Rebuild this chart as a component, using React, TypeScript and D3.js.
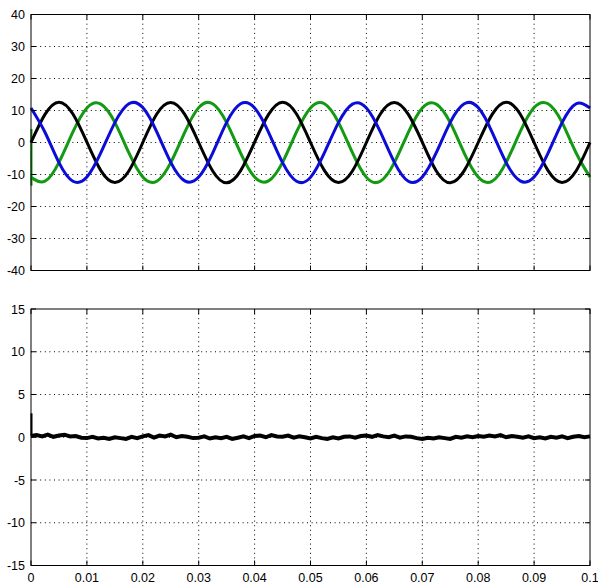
import React from "react";
import * as d3 from "d3";

const t = d3.range(41).map((i) => i * 0.0025);

const phaseA = [
  0, 8.8, 12.6, 8.9, 0.1, -8.8, -12.5, -8.9,
  0, 8.9, 12.5, 8.8, 0, -8.9, -12.6, -8.8,
  0.1, 8.8, 12.6, 8.9, 0, -8.8, -12.5, -8.9,
  0, 8.9, 12.5, 8.8, 0.1, -8.9, -12.6, -8.8,
  0, 8.8, 12.6, 8.9, 0, -8.8, -12.5, -8.9,
  0,
];
const phaseB = [
  10.8, 3.2, -6.3, -12.1, -10.8, -3.2, 6.2, 12.1,
  10.9, 3.3, -6.2, -12.0, -10.8, -3.3, 6.3, 12.1,
  10.8, 3.2, -6.3, -12.1, -10.9, -3.2, 6.2, 12.0,
  10.8, 3.3, -6.2, -12.1, -10.8, -3.2, 6.3, 12.1,
  10.9, 3.2, -6.3, -12.0, -10.8, -3.3, 6.2, 12.1,
  10.8,
];
const phaseC = [
  -10.9, -12.1, -6.2, 3.3, 10.8, 12.0, 6.3, -3.2,
  -10.8, -12.1, -6.3, 3.2, 10.9, 12.1, 6.2, -3.3,
  -10.8, -12.0, -6.2, 3.3, 10.8, 12.1, 6.3, -3.2,
  -10.9, -12.1, -6.3, 3.2, 10.8, 12.0, 6.2, -3.3,
  -10.8, -12.1, -6.2, 3.3, 10.9, 12.1, 6.3, -3.2,
  -10.8,
];
// start-up transient of phase C at t = 0
const phaseCStart = [4.2, -13.5];

// lower plot, sampled every 0.001 s
const t2 = d3.range(101).map((i) => i * 0.001);
const residual = [
  0.15, 0.25, 0.1, 0.3, 0.05, 0.2, 0.3, 0.1, 0.15, -0.05,
  -0.1, 0.05, -0.15, -0.05, -0.2, 0.0, -0.1, -0.2, 0.05, -0.1,
  0.1, 0.25, -0.05, 0.2, 0.1, 0.3, 0.0, 0.15, 0.05, -0.1,
  -0.05, 0.1, -0.15, 0.0, -0.1, 0.05, -0.2, -0.05, 0.1, -0.1,
  0.15, 0.2, 0.0, 0.25, 0.1, 0.05, 0.2, -0.05, 0.1, 0.0,
  -0.15, 0.05, -0.1, -0.2, 0.0, -0.15, 0.05, 0.1, -0.05, 0.15,
  0.2, 0.05, 0.25, 0.1, 0.0, 0.2, -0.05, 0.1, 0.05, -0.1,
  -0.2, -0.05, -0.15, 0.0, -0.1, -0.2, 0.05, -0.05, 0.1, 0.0,
  0.15, 0.05, 0.2, 0.1, 0.25, 0.0, 0.15, 0.05, -0.05, 0.1,
  -0.1, 0.0, -0.15, 0.05, -0.05, 0.1, -0.1, 0.05, 0.15, 0.0,
  0.1,
];
const residualStart = [2.8, 0.15];

const xTicks = [0, 0.01, 0.02, 0.03, 0.04, 0.05, 0.06, 0.07, 0.08, 0.09, 0.1];
const yTicksTop = [-40, -30, -20, -10, 0, 10, 20, 30, 40];
const yTicksBottom = [-15, -10, -5, 0, 5, 10, 15];

const W = 598;
const H = 584;
const left = 31;
const right = 590;
const font = "'Liberation Sans', Arial, Helvetica, sans-serif";

const x = d3.scaleLinear().domain([0, 0.1]).range([left, right]);

type PanelProps = {
  y: d3.ScaleLinear<number, number>;
  yTicks: number[];
  showX: boolean;
  children: React.ReactNode;
};

const Panel = ({ y, yTicks, showX, children }: PanelProps) => {
  const [y0, y1] = y.range();
  const top = Math.min(y0, y1);
  const bottom = Math.max(y0, y1);
  const tl = 5;
  return (
    <g>
      {/* dotted grid */}
      {xTicks.slice(1, -1).map((v) => (
        <line key={"gx" + v} x1={x(v)} x2={x(v)} y1={top} y2={bottom}
          stroke="#000" strokeWidth={1} strokeDasharray="1,3.6" />
      ))}
      {yTicks.slice(1, -1).map((v) => (
        <line key={"gy" + v} x1={left} x2={right} y1={y(v)} y2={y(v)}
          stroke="#000" strokeWidth={1} strokeDasharray="1,3.6" />
      ))}
      {children}
      {/* ticks */}
      {xTicks.map((v) => (
        <g key={"tx" + v}>
          <line x1={x(v)} x2={x(v)} y1={bottom} y2={bottom - tl} stroke="#000" />
          <line x1={x(v)} x2={x(v)} y1={top} y2={top + tl} stroke="#000" />
        </g>
      ))}
      {yTicks.map((v) => (
        <g key={"ty" + v}>
          <line x1={left} x2={left + tl} y1={y(v)} y2={y(v)} stroke="#000" />
          <line x1={right} x2={right - tl} y1={y(v)} y2={y(v)} stroke="#000" />
          <text x={left - 6} y={y(v)} dy="0.36em" textAnchor="end"
            fontFamily={font} fontSize={12.5} fill="#000">{v}</text>
        </g>
      ))}
      <rect x={left} y={top} width={right - left} height={bottom - top}
        fill="none" stroke="#000" strokeWidth={1} />
      {showX && xTicks.map((v) => (
        <text key={"lx" + v} x={x(v)} y={bottom + 16} textAnchor="middle"
          fontFamily={font} fontSize={12.5} fill="#000">{String(v)}</text>
      ))}
    </g>
  );
};

export default function App() {
  const yTop = d3.scaleLinear().domain([-40, 40]).range([270.5, 14.5]);
  const yBot = d3.scaleLinear().domain([-15, 15]).range([565.5, 309]);

  const lineTop = d3.line<number>().x((_, i) => x(t[i])).y((d) => yTop(d)).curve(d3.curveNatural);
  const lineBot = d3.line<number>().x((_, i) => x(t2[i])).y((d) => yBot(d));
  const startTop = d3.line<number>().x(() => x(0) + 0.5).y((d) => yTop(d));
  const startBot = d3.line<number>().x(() => x(0) + 0.5).y((d) => yBot(d));

  return (
    <svg width={W} height={H} style={{ position: "absolute", left: 0, top: 0, background: "#fff" }}>
      <rect width={W} height={H} fill="#fff" />
      <Panel y={yTop} yTicks={yTicksTop} showX={false}>
        <path d={lineTop(phaseC) || ""} fill="none" stroke="#129a12" strokeWidth={3} />
        <path d={startTop(phaseCStart) || ""} fill="none" stroke="#129a12" strokeWidth={2} />
        <path d={lineTop(phaseA) || ""} fill="none" stroke="#000" strokeWidth={3} />
        <path d={lineTop(phaseB) || ""} fill="none" stroke="#0c0cd8" strokeWidth={3} />
      </Panel>
      <Panel y={yBot} yTicks={yTicksBottom} showX={true}>
        <path d={startBot(residualStart) || ""} fill="none" stroke="#000" strokeWidth={2} />
        <path d={lineBot(residual) || ""} fill="none" stroke="#000" strokeWidth={4} />
      </Panel>
    </svg>
  );
}
